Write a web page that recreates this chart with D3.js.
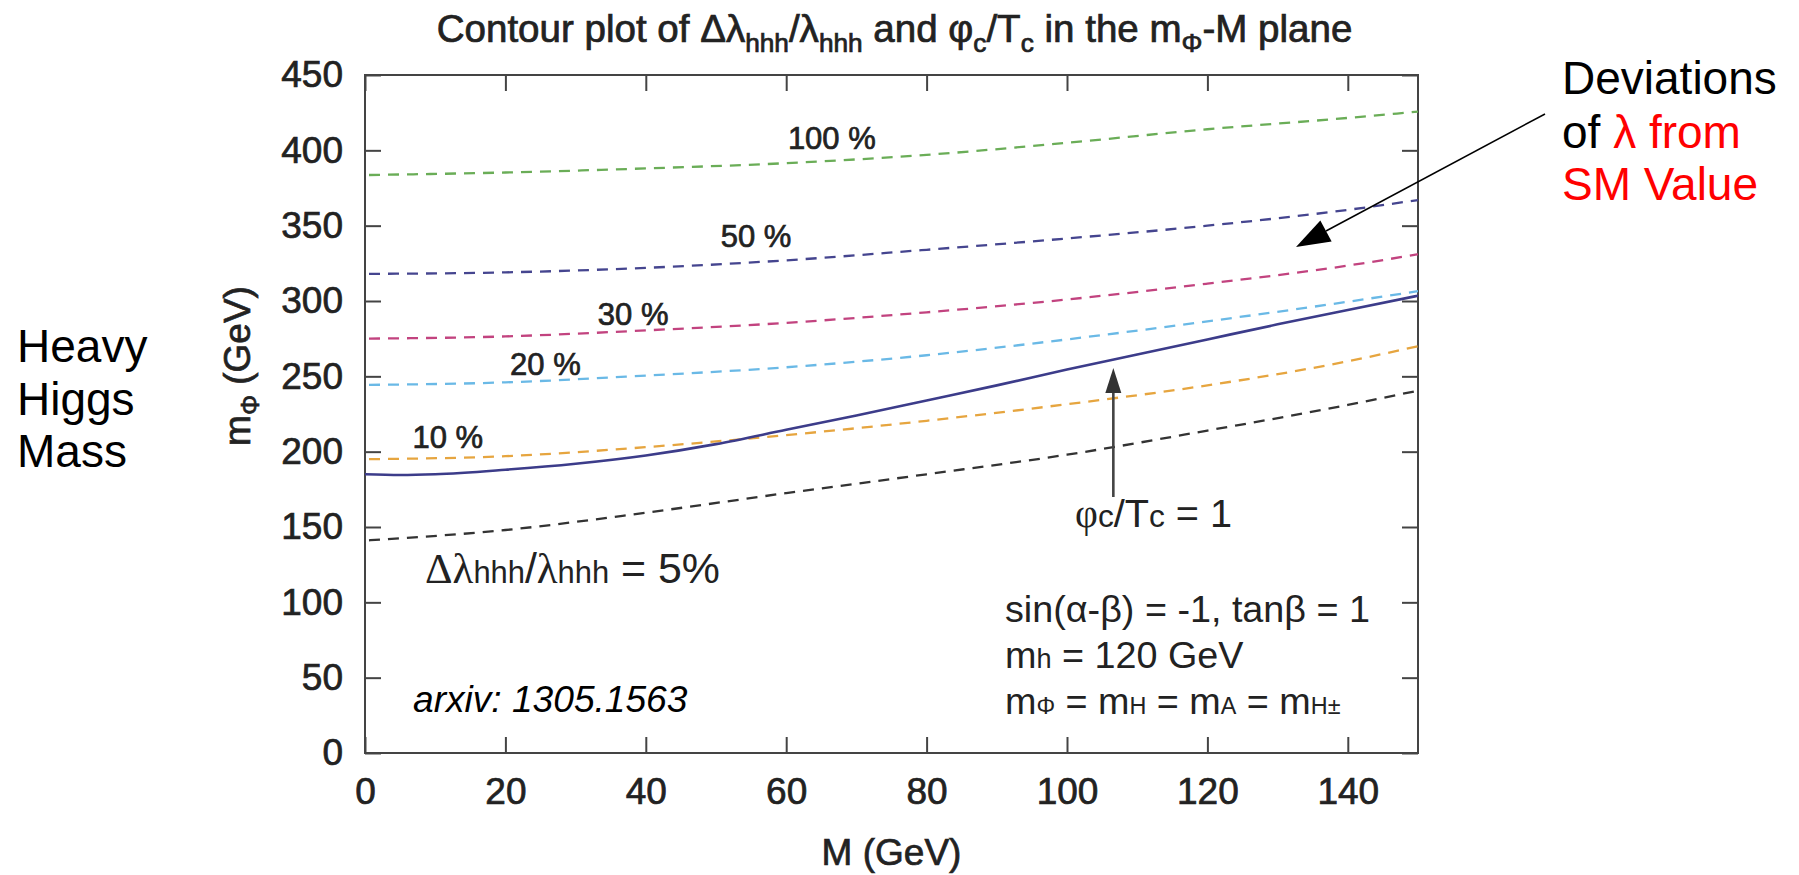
<!DOCTYPE html>
<html>
<head>
<meta charset="utf-8">
<script src="https://cdn.jsdelivr.net/npm/d3@7"></script>
<style>
  body { margin: 0; background: #fff; }
  svg { display: block; font-family: "Liberation Sans", Arial, Helvetica, sans-serif; }
  .heavy { stroke: #222; stroke-width: 0.7px; paint-order: stroke; }
</style>
</head>
<body>
<svg id="chart" width="1799" height="875"></svg>
<script>
// Contour values of m_Phi (GeV) along M (GeV)
const massM   = [0, 20, 40, 60, 80, 100, 120, 140, 150];
const dev100  = [383.6, 385.3, 388, 391.5, 397, 405, 414, 421.5, 425.7];
const dev50   = [318, 319, 322, 327, 334, 341.5, 350, 360.5, 367];
const dev30   = [275, 276.5, 280.5, 285.5, 292.5, 301, 311.5, 323.5, 331];
const dev20   = [244.3, 246, 250.5, 256, 264, 274.5, 286.5, 299.5, 306.5];
const dev10   = [195, 197, 203, 211, 220.5, 231.5, 244, 260, 270];
const dev5    = [141, 148, 159.5, 172.5, 185, 198, 214, 231, 240.5];

// phi_c / T_c = 1 boundary
const ptM     = [0, 5, 10, 20, 30, 40, 50, 60, 70, 80, 90, 100, 110, 120, 130, 140, 150];
const ptVals  = [185, 184.5, 185, 188, 192, 197.5, 205, 214.5, 224, 234, 244, 254.5, 264.5, 274.5, 284.5, 294, 303.5];

const xTicks = [0, 20, 40, 60, 80, 100, 120, 140];
const yTicks = [0, 50, 100, 150, 200, 250, 300, 350, 400, 450];

const contourNames  = ["100 %", "50 %", "30 %", "20 %", "10 %", "5 %"];
const contourColors = ["#6aad57", "#45458f", "#c2437f", "#6ab9e6", "#e6a53f", "#333333"];
const contourSeries = [dev100, dev50, dev30, dev20, dev10, dev5];

// label anchors (M, m_Phi) for the contour tags
const tagM   = [66.5, 55.7, 38.2, 25.7, 11.8];
const tagVal = [408.5, 343, 291.8, 258.1, 210];

const svg = d3.select("#chart");
const x = d3.scaleLinear().domain([0, 150]).range([365, 1418]);
const y = d3.scaleLinear().domain([0, 450]).range([753, 75]);
const ink = "#222";
const frame = "#444";

svg.append("defs").append("clipPath").attr("id", "plotClip")
  .append("rect").attr("x", x(0)).attr("y", y(450))
  .attr("width", x(150) - x(0)).attr("height", y(0) - y(450));

// axes with inward ticks on all four sides
const tickFont = g => g.selectAll("text").attr("font-size", 37).attr("fill", ink)
  .attr("class", "heavy").attr("font-family", "\"Liberation Sans\", Arial, sans-serif");
const noDomain = g => g.select(".domain").remove();

svg.append("g").attr("transform", `translate(0,${y(0)})`)
  .call(d3.axisBottom(x).tickValues(xTicks).tickSizeInner(-16).tickSizeOuter(0).tickPadding(25))
  .call(noDomain).call(tickFont)
  .call(g => g.selectAll("line").attr("stroke", frame).attr("stroke-width", 2));
svg.append("g").attr("transform", `translate(0,${y(450)})`)
  .call(d3.axisTop(x).tickValues(xTicks).tickSizeInner(-16).tickSizeOuter(0).tickFormat(""))
  .call(noDomain)
  .call(g => g.selectAll("line").attr("stroke", frame).attr("stroke-width", 2));
svg.append("g").attr("transform", `translate(${x(0)},0)`)
  .call(d3.axisLeft(y).tickValues(yTicks).tickSizeInner(-16).tickSizeOuter(0).tickPadding(22))
  .call(noDomain).call(tickFont)
  .call(g => g.selectAll("line").attr("stroke", frame).attr("stroke-width", 2));
svg.append("g").attr("transform", `translate(${x(150)},0)`)
  .call(d3.axisRight(y).tickValues(yTicks).tickSizeInner(-16).tickSizeOuter(0).tickFormat(""))
  .call(noDomain)
  .call(g => g.selectAll("line").attr("stroke", frame).attr("stroke-width", 2));

svg.append("rect").attr("x", x(0)).attr("y", y(450))
  .attr("width", x(150) - x(0)).attr("height", y(0) - y(450))
  .attr("fill", "none").attr("stroke", frame).attr("stroke-width", 2);

// contour lines
const line = d3.line().curve(d3.curveMonotoneX);
const plot = svg.append("g").attr("clip-path", "url(#plotClip)");
contourSeries.forEach((vals, i) => {
  plot.append("path")
    .attr("d", line(massM.map((m, k) => [x(m), y(vals[k])])))
    .attr("fill", "none").attr("stroke", contourColors[i])
    .attr("stroke-width", 2.3).attr("stroke-dasharray", "11 8")
    .attr("stroke-dashoffset", -4);
});
plot.append("path")
  .attr("d", line(ptM.map((m, k) => [x(m), y(ptVals[k])])))
  .attr("fill", "none").attr("stroke", "#3c3c8a").attr("stroke-width", 2.6);

// contour tags
tagM.forEach((m, i) => {
  svg.append("text").attr("x", x(m)).attr("y", y(tagVal[i])).attr("dy", "0.36em")
    .attr("text-anchor", "middle").attr("font-size", 31).attr("fill", ink)
    .attr("class", "heavy").text(contourNames[i]);
});

// rich text helper: segments of {t, sub, small, font}
function rich(parent, segs, size, opts = {}) {
  const t = parent.append("text").attr("font-size", size).attr("fill", opts.fill || ink);
  if (opts.style) t.attr("font-style", opts.style);
  if (opts.heavy) t.attr("class", "heavy");
  let shift = 0;
  segs.forEach(s => {
    const sp = t.append("tspan").text(s.t);
    const target = s.sub ? size * 0.25 : 0;
    if (target !== shift) { sp.attr("dy", target - shift); shift = target; }
    if (s.sub || s.small) sp.attr("font-size", size * (s.scale || 0.68));
    if (s.font) sp.attr("font-family", s.font);
    if (s.fill) sp.attr("fill", s.fill);
  });
  return t;
}
// place a text group at (px, py) scaled uniformly to a target width
function fitted(segs, size, px, py, width, anchor, opts) {
  const g = svg.append("g");
  const t = rich(g, segs, size, opts);
  const w = t.node().getBBox().width;
  const s = width ? width / w : 1;
  const dx = anchor === "middle" ? -w / 2 : 0;
  t.attr("x", dx);
  t.selectAll("tspan").filter((d, i) => i === 0).attr("x", dx);
  g.attr("transform", `translate(${px},${py}) scale(${s})`);
  return s;
}

const serif = "\"Liberation Serif\", \"Times New Roman\", serif";

// title
fitted([
  { t: "Contour plot of Δλ" }, { t: "hhh", sub: true }, { t: "/λ" }, { t: "hhh", sub: true },
  { t: " and φ" }, { t: "c", sub: true }, { t: "/T" }, { t: "c", sub: true },
  { t: " in the m" }, { t: "Φ", sub: true }, { t: "-M plane" }
], 36, 894.7, 42, 916, "middle", { heavy: true });

// axis titles
svg.append("text").attr("x", (x(0) + x(150)) / 2).attr("y", 865)
  .attr("text-anchor", "middle").attr("font-size", 37).attr("fill", ink)
  .attr("class", "heavy").text("M (GeV)");
const yl = svg.append("g").attr("transform", "translate(250,366) rotate(-90)");
const ylt = rich(yl, [{ t: "m" }, { t: "Φ", sub: true }, { t: " (GeV)" }], 37, { heavy: true });
ylt.attr("text-anchor", "middle");

// annotations inside the plot
fitted([
  { t: "Δλ", font: serif }, { t: "hhh", small: true, scale: 0.72 }, { t: "/" },
  { t: "λ", font: serif }, { t: "hhh", small: true, scale: 0.72 }, { t: " = 5%" }
], 34, 425, 583, 295, "start");

fitted([
  { t: "φ", font: serif }, { t: "c", small: true, scale: 0.8 }, { t: "/T" },
  { t: "c", small: true, scale: 0.8 }, { t: " = 1" }
], 32, 1075, 527, 157, "start");

const ps = fitted([{ t: "sin(α-β) = -1, tanβ = 1" }], 34, 1005, 622, 365, "start");
fitted([{ t: "m" }, { t: "h", small: true, scale: 0.72 }, { t: " = 120 GeV" }], 34 * ps, 1005, 668, null, "start");
fitted([
  { t: "m" }, { t: "Φ", small: true, scale: 0.62 }, { t: " = m" }, { t: "H", small: true, scale: 0.62 },
  { t: " = m" }, { t: "A", small: true, scale: 0.62 }, { t: " = m" }, { t: "H", small: true, scale: 0.62 },
  { t: "±", small: true, scale: 0.62 }
], 34 * ps, 1005, 714, null, "start");

fitted([{ t: "arxiv: 1305.1563" }], 35, 413, 712, 275, "start", { style: "italic", fill: "#000" });

// phi_c/T_c pointer
const ax = x(106.6);
svg.append("line").attr("x1", ax).attr("x2", ax).attr("y1", 497).attr("y2", 390)
  .attr("stroke", "#444").attr("stroke-width", 2.6);
svg.append("path").attr("d", `M${ax},368 L${ax - 8},393 L${ax + 8},393 Z`).attr("fill", "#333");

// side notes
const notes = [
  { x: 17, y: 362, parts: [["Heavy", "#000"]] },
  { x: 17, y: 415, parts: [["Higgs", "#000"]] },
  { x: 17, y: 467, parts: [["Mass", "#000"]] },
  { x: 1562, y: 94, parts: [["Deviations", "#000"]] },
  { x: 1562, y: 148, parts: [["of ", "#000"], ["λ from", "#ff0000"]] },
  { x: 1562, y: 200, parts: [["SM Value", "#ff0000"]] }
];
notes.forEach(n => {
  const t = svg.append("text").attr("x", n.x).attr("y", n.y).attr("font-size", 46);
  n.parts.forEach(p => t.append("tspan").attr("fill", p[1]).text(p[0]));
});

// pointer from the side note into the plot
const p0 = [1545, 114], p1 = [1296, 247];
const ang = Math.atan2(p1[1] - p0[1], p1[0] - p0[0]);
const hl = 34, hw = 12;
const bx = p1[0] - hl * Math.cos(ang), by = p1[1] - hl * Math.sin(ang);
svg.append("line").attr("x1", p0[0]).attr("y1", p0[1]).attr("x2", bx).attr("y2", by)
  .attr("stroke", "#000").attr("stroke-width", 1.5);
svg.append("path")
  .attr("d", `M${p1[0]},${p1[1]} L${bx + hw * Math.sin(ang)},${by - hw * Math.cos(ang)} L${bx - hw * Math.sin(ang)},${by + hw * Math.cos(ang)} Z`)
  .attr("fill", "#000");
</script>
</body>
</html>
